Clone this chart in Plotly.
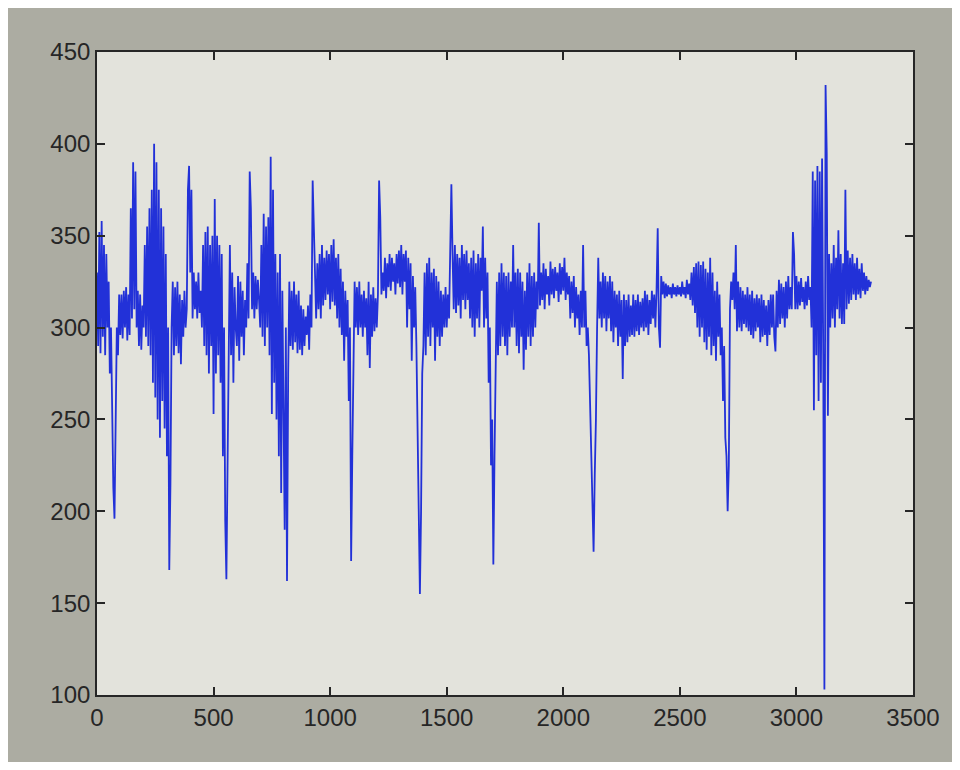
import plotly.graph_objects as go

# sample index, step 5 (0 .. 3320); one row = 100 samples
step = 5
values = [
    330, 290, 352, 286, 358, 295, 345, 285, 340, 300, 325, 275, 300, 250, 213, 196, 260, 300, 285, 318,
    296, 318, 294, 320, 300, 322, 293, 318, 296, 365, 305, 390, 310, 385, 300, 320, 290, 318, 288, 312,
    300, 345, 295, 355, 290, 365, 285, 375, 270, 400, 262, 390, 250, 375, 240, 365, 260, 355, 245, 340,
    230, 300, 168, 215, 300, 325, 285, 322, 290, 325, 286, 318, 280, 315, 295, 320, 300, 310, 375, 388,
    330, 375, 305, 330, 310, 325, 305, 330, 308, 320, 300, 345, 290, 352, 285, 355, 275, 345, 290, 350,
    253, 370, 275, 350, 285, 345, 270, 340, 230, 300, 195, 163, 225, 300, 345, 285, 330, 270, 322, 300,
    290, 328, 282, 325, 295, 320, 285, 315, 300, 335, 305, 385, 365, 310, 330, 305, 328, 310, 326, 315,
    300, 345, 295, 362, 290, 355, 300, 360, 285, 393, 253, 375, 270, 340, 250, 330, 230, 340, 210, 320,
    260, 190, 300, 162, 275, 325, 290, 320, 288, 325, 292, 318, 286, 320, 288, 312, 285, 310, 290, 306,
    296, 312, 288, 318, 300, 380, 355, 320, 305, 335, 310, 340, 305, 345, 312, 338, 315, 342, 318, 340,
    310, 345, 314, 348, 312, 338, 305, 340, 300, 332, 296, 325, 282, 320, 295, 315, 260, 300, 173, 230,
    275, 325, 300, 322, 296, 325, 300, 318, 295, 320, 300, 316, 285, 325, 278, 318, 295, 322, 298, 316,
    300, 318, 380, 360, 318, 330, 320, 338, 316, 335, 322, 340, 320, 338, 325, 335, 318, 340, 324, 342,
    322, 345, 318, 340, 325, 342, 300, 338, 310, 335, 282, 328, 300, 322, 290, 250, 215, 155, 200, 275,
    290, 330, 285, 335, 295, 338, 290, 330, 300, 332, 282, 328, 295, 325, 290, 320, 295, 318, 300, 322,
    300, 318, 305, 335, 378, 340, 310, 345, 308, 340, 312, 338, 305, 345, 315, 340, 310, 342, 315, 335,
    305, 338, 300, 342, 295, 335, 305, 340, 300, 338, 320, 355, 300, 338, 305, 330, 270, 300, 225, 250,
    171, 230, 290, 325, 285, 330, 290, 335, 295, 330, 290, 328, 285, 330, 295, 325, 300, 345, 300, 330,
    290, 332, 286, 330, 295, 325, 277, 320, 288, 330, 295, 335, 290, 328, 295, 330, 300, 325, 310, 357,
    312, 330, 315, 335, 310, 332, 318, 328, 312, 336, 318, 332, 316, 333, 320, 330, 314, 335, 318, 333,
    320, 338, 315, 330, 318, 328, 305, 325, 308, 328, 300, 322, 305, 318, 296, 320, 300, 345, 300, 320,
    290, 300, 285, 260, 230, 195, 178, 220, 250, 300, 338, 305, 325, 300, 330, 305, 328, 298, 325, 305,
    328, 298, 325, 292, 320, 300, 318, 290, 320, 295, 315, 272, 318, 290, 315, 292, 318, 295, 312, 296,
    318, 295, 315, 298, 318, 296, 314, 300, 316, 298, 320, 300, 318, 296, 315, 302, 320, 305, 318, 300,
    320, 354, 300, 289, 328, 318, 325, 316, 324, 317, 323, 318, 322, 316, 324, 318, 322, 317, 323, 318,
    322, 317, 325, 318, 322, 316, 326, 318, 324, 315, 330, 312, 333, 308, 335, 300, 336, 295, 334, 300,
    336, 292, 332, 288, 330, 295, 338, 285, 330, 290, 320, 282, 325, 295, 318, 285, 300, 260, 290, 240,
    230, 200, 225, 310, 325, 315, 330, 310, 345, 298, 325, 300, 322, 298, 320, 302, 318, 300, 322, 298,
    318, 296, 320, 294, 316, 298, 318, 300, 316, 292, 318, 295, 315, 296, 312, 290, 315, 296, 318, 300,
    318, 295, 287, 320, 300, 326, 302, 324, 305, 322, 300, 325, 305, 328, 310, 322, 310, 352, 340, 310,
    328, 310, 325, 312, 327, 314, 322, 310, 325, 312, 328, 315, 322, 300, 385, 255, 380, 285, 388, 260,
    385, 270, 392, 285, 103, 432, 395, 252, 340, 300, 335, 305, 345, 300, 338, 310, 353, 305, 340, 302,
    335, 302, 375, 310, 342, 313, 338, 315, 340, 318, 335, 315, 338, 318, 332, 316, 335, 320, 330, 318,
    328, 320, 326, 322, 325,
]
samples = [i * step for i in range(len(values))]

x_ticks = [0, 500, 1000, 1500, 2000, 2500, 3000, 3500]
y_ticks = [100, 150, 200, 250, 300, 350, 400, 450]

fig = go.Figure()
fig.add_trace(go.Scatter(
    x=samples, y=values,
    mode='lines',
    line=dict(color='#2231d8', width=1.8),
    showlegend=False
))

axis_style = dict(
    showgrid=False,
    zeroline=False,
    showline=True,
    linecolor='#262626',
    linewidth=1.6,
    mirror='ticks',
    ticks='inside',
    ticklen=8,
    tickwidth=1.6,
    tickcolor='#262626',
    tickfont=dict(family='Liberation Sans, Arial, sans-serif', size=24, color='#262626'),
)

# the page adds an 8px body margin, so the figure is a bit smaller than the window
fig.update_layout(
    width=944, height=754,
    margin=dict(l=89, r=35, t=44, b=67),
    paper_bgcolor='#acaca2',
    plot_bgcolor='#e3e3dc',
    xaxis=dict(range=[0, 3500], tickvals=x_ticks, **axis_style),
    yaxis=dict(range=[100, 450], tickvals=y_ticks, **axis_style),
)

fig.write_html("out.html")
